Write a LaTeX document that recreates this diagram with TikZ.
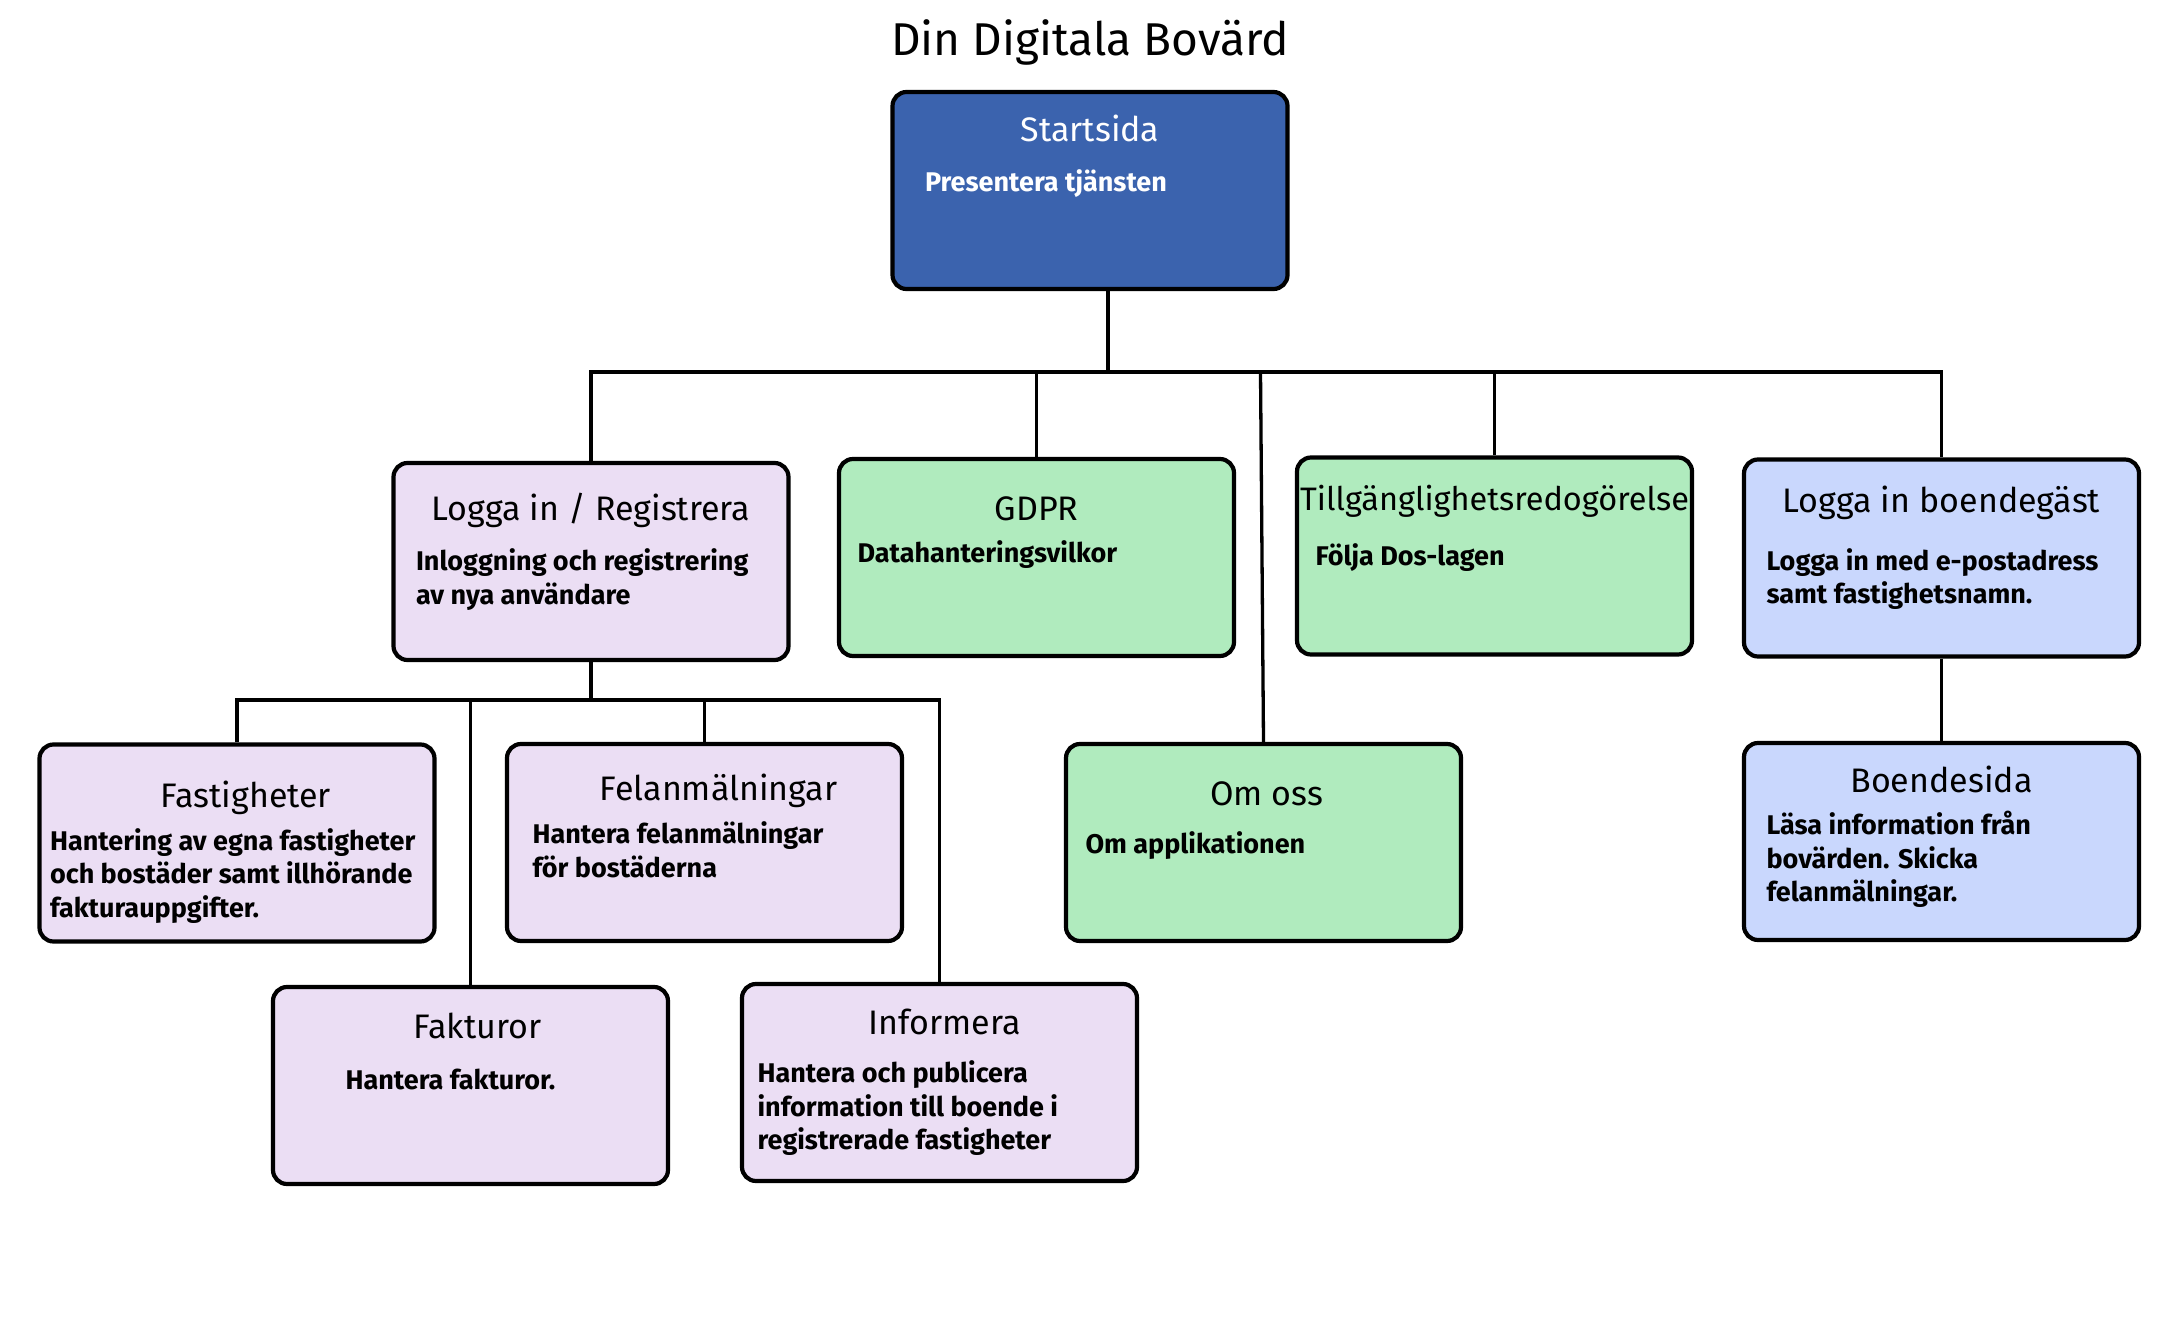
\documentclass[tikz,border=0pt]{standalone}
\usepackage{fontspec}
\setmainfont{Fira Sans}
\definecolor{startblue}{RGB}{59,99,174}
\definecolor{lavendel}{RGB}{235,222,244}
\definecolor{gron}{RGB}{176,235,190}
\definecolor{ljusbla}{RGB}{201,215,253}
\tikzstyle{sida}=[draw, line width=4.2pt, rounded corners=14pt, minimum width=395pt, minimum height=197pt, inner sep=0pt]
\tikzstyle{rubrik}=[anchor=base, inner sep=0pt, font=\fontsize{34}{40}\selectfont]
\tikzstyle{beskr}=[anchor=base west, inner sep=0pt, align=left, font=\bfseries\fontsize{27}{33.5}\selectfont]

\begin{document}
\begin{tikzpicture}[x=1pt, y=-1pt, line width=3.3pt]
    \useasboundingbox[fill=white] (0,0) rectangle (2179,1324);
% Title
    \node[anchor=base, inner sep=0pt, font=\fontsize{46}{54}\selectfont] (title) at (1090,56) {Din Digitala Bovärd};
% Boxes
    \node[sida, fill=startblue] (start) at (1090,190.5) {};
    \node[sida, fill=lavendel] (login) at (591,561.5) {};
    \node[sida, fill=gron] (gdpr) at (1036.5,557.5) {};
    \node[sida, fill=gron] (tillg) at (1494.5,556) {};
    \node[sida, fill=ljusbla] (gast) at (1941.5,558) {};
    \node[sida, fill=lavendel] (fast) at (237,843) {};
    \node[sida, fill=lavendel] (felanm) at (704.5,842.5) {};
    \node[sida, fill=lavendel] (faktura) at (470.5,1085.5) {};
    \node[sida, fill=lavendel] (info) at (939.5,1082.5) {};
    \node[sida, fill=gron] (omoss) at (1263.5,842.5) {};
    \node[sida, fill=ljusbla] (boende) at (1941.5,841.5) {};
% Box titles
    \node[rubrik, white] (start-t) at ([yshift=-52pt]start.north) {Startsida};
    \node[rubrik] (login-t) at ([yshift=-60pt]login.north) {Logga in / Registrera};
    \node[rubrik] (gdpr-t) at ([yshift=-64pt]gdpr.north) {GDPR};
    \node[rubrik, font=\fontsize{32.5}{40}\selectfont] (tillg-t) at ([yshift=-55pt]tillg.north) {Tillgänglighetsredogörelse};
    \node[rubrik] (gast-t) at ([yshift=-55pt]gast.north) {Logga in boendegäst};
    \node[rubrik] (fast-t) at ([xshift=9pt, yshift=-65pt]fast.north) {Fastigheter};
    \node[rubrik] (felanm-t) at ([xshift=14pt, yshift=-59pt]felanm.north) {Felanmälningar};
    \node[rubrik] (faktura-t) at ([xshift=7pt, yshift=-54pt]faktura.north) {Fakturor};
    \node[rubrik] (info-t) at ([xshift=5pt, yshift=-53pt]info.north) {Informera};
    \node[rubrik] (omoss-t) at ([xshift=3pt, yshift=-64pt]omoss.north) {Om oss};
    \node[rubrik] (boende-t) at ([yshift=-52pt]boende.north) {Boendesida};
% Box texts (base = last line)
    \node[beskr, white] (start-b) at ([xshift=33pt, yshift=-102pt]start.north west) {Presentera tjänsten};
    \node[beskr] (login-b) at ([xshift=23pt, yshift=-143.5pt]login.north west) {Inloggning och registrering\\av nya användare};
    \node[beskr] (gdpr-b) at ([xshift=19pt, yshift=-106pt]gdpr.north west) {Datahanteringsvilkor};
    \node[beskr] (tillg-b) at ([xshift=19pt, yshift=-110pt]tillg.north west) {Följa Dos-lagen};
    \node[beskr] (gast-b) at ([xshift=23pt, yshift=-146.5pt]gast.north west) {Logga in med e-postadress\\samt fastighetsnamn.};
    \node[beskr] (fast-b) at ([xshift=11pt, yshift=-175pt]fast.north west) {Hantering av egna fastigheter\\och bostäder samt illhörande\\fakturauppgifter.};
    \node[beskr] (felanm-b) at ([xshift=26pt, yshift=-135.5pt]felanm.north west) {Hantera felanmälningar\\för bostäderna};
    \node[beskr] (faktura-b) at ([xshift=73pt, yshift=-105pt]faktura.north west) {Hantera fakturor.};
    \node[beskr] (info-b) at ([xshift=16pt, yshift=-168pt]info.north west) {Hantera och publicera\\information till boende i\\registrerade fastigheter};
    \node[beskr] (omoss-b) at ([xshift=20pt, yshift=-112pt]omoss.north west) {Om applikationen};
    \node[beskr] (boende-b) at ([xshift=23pt, yshift=-161pt]boende.north west) {Läsa information från\\bovärden. Skicka\\felanmälningar.};
% Lines
    \coordinate (buss) at (1108,372);
    \coordinate (underbuss) at (590,700);
    \draw (start.south -| buss) -- (buss);
    \draw (login.north) |- (buss) -| (gast.north);
    \draw (gdpr.north) -- (gdpr.north |- buss);
    \draw (tillg.north) -- (tillg.north |- buss);
    \draw (omoss.north) -- ([xshift=-3pt]omoss.north |- buss);
    \draw (login.south) -- (login.south |- underbuss);
    \draw (fast.north) |- (underbuss) -| (info.north);
    \draw (faktura.north) -- (faktura.north |- underbuss);
    \draw (felanm.north) -- (felanm.north |- underbuss);
    \draw (gast.south) -- (boende.north);
\end{tikzpicture}
\end{document}
